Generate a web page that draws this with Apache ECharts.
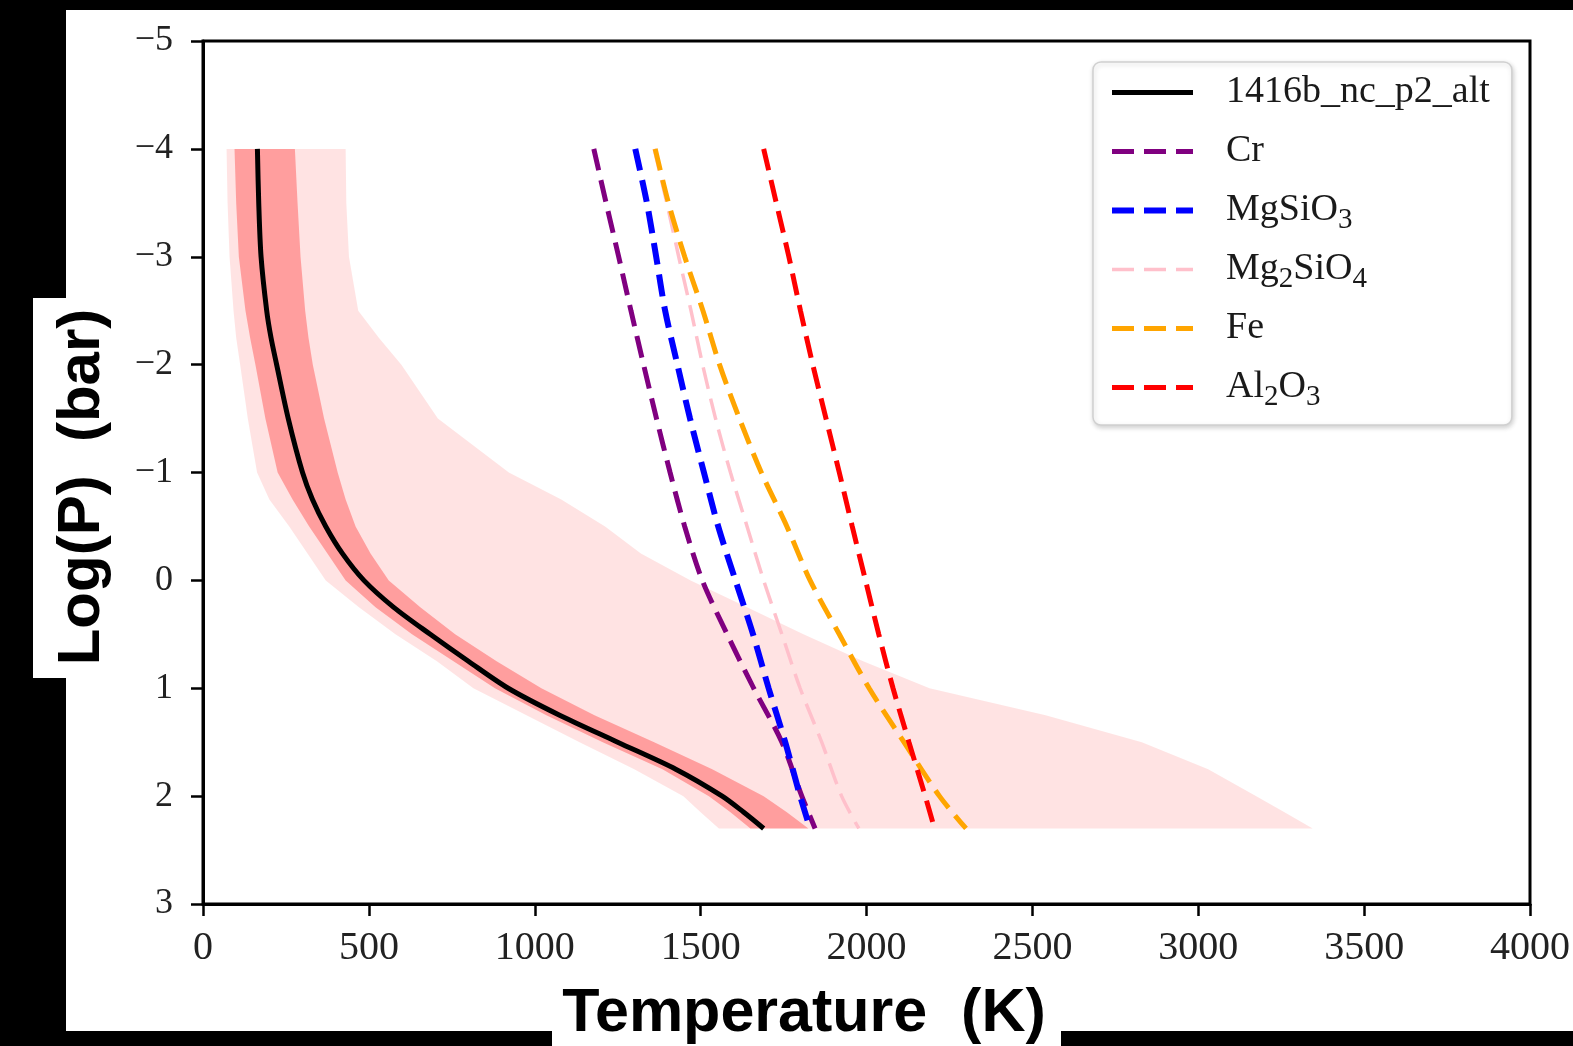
<!DOCTYPE html>
<html>
<head>
<meta charset="utf-8">
<title>Temperature–pressure profile</title>
<script src="https://cdn.jsdelivr.net/npm/echarts@6/dist/echarts.min.js"></script>
<style>
  html, body { margin: 0; padding: 0; background: #ffffff; }
  #chart { width: 1573px; height: 1046px; }
</style>
</head>
<body>
<div id="chart"></div>
<script>
// Pressure grid (log10 bar) shared by the retrieved profile and its bands
const pressure = [-4.0, -3.5, -3.0, -2.5, -2.25, -2.0, -1.5, -1.0, -0.75, -0.5, -0.25, 0.0,
                  0.25, 0.5, 0.75, 1.0, 1.25, 1.5, 1.75, 2.0, 2.15, 2.3];
// Retrieved temperature profile (K) and its confidence envelopes
const median  = [164, 168, 175, 192, 205, 222, 257, 300, 330, 370, 420, 485,
                 575, 685, 800, 920, 1075, 1250, 1425, 1565, 1630, 1690];
const innerLo = [95, 100, 108, 128, 142, 158, 188, 225, 270, 320, 375, 430,
                 520, 630, 755, 880, 1035, 1205, 1385, 1525, 1590, 1650];
const innerHi = [277, 285, 294, 308, 318, 331, 365, 406, 430, 460, 505, 560,
                 655, 760, 885, 1020, 1180, 1360, 1535, 1690, 1760, 1825];
const outerLo = [71, 74, 80, 92, 100, 112, 135, 163, 200, 260, 315, 370,
                 470, 580, 705, 815, 975, 1135, 1300, 1448, 1500, 1555];
const outerHi = [430, 432, 440, 468, 530, 598, 708, 922, 1080, 1212, 1320, 1470,
                 1640, 1810, 1990, 2190, 2540, 2830, 3030, 3175, 3260, 3345];

// Condensation curves, temperature (K) on their own pressure grid
const condPressure = [-4.0, -3.5, -3.0, -2.5, -2.0, -1.5, -1.0, -0.5, 0.0, 0.5, 1.0, 1.5, 2.0, 2.3];
const crT      = [1178, 1215, 1253, 1290, 1328, 1367, 1408, 1452, 1505, 1580, 1660, 1745, 1805, 1845];
const mgsio3T  = [1303, 1338, 1366, 1393, 1430, 1468, 1510, 1553, 1605, 1658, 1705, 1755, 1800, 1830];
const mg2sio4T = [1360, 1398, 1434, 1471, 1506, 1545, 1590, 1640, 1690, 1745, 1800, 1865, 1925, 1977];
const feT      = [1363, 1403, 1452, 1507, 1557, 1617, 1683, 1760, 1830, 1918, 2008, 2113, 2220, 2300];
const al2o3T   = [1690, 1728, 1766, 1801, 1838, 1878, 1918, 1957, 1997, 2037, 2080, 2128, 2177, 2205];

// Axis ticks
const xTicks = { min: 0, max: 4000, step: 500 };
const yTicks = { min: -5, max: 3, step: 1 };

// Legend entries; digits in species names are drawn as subscripts
const profileName = '1416b_nc_p2_alt';
const speciesNames = ['Cr', 'MgSiO3', 'Mg2SiO4', 'Fe', 'Al2O3'];

const serif = 'Liberation Serif';
const sans = 'Liberation Sans';

function pairs(ts, ps) { return ts.map((t, i) => [t, ps[i]]); }

function bandRenderer(lo, hi, fill) {
  return function (params, api) {
    if (params.dataIndex !== 0) return null;
    const pts = [];
    for (let i = 0; i < pressure.length; i++) pts.push(api.coord([lo[i], pressure[i]]));
    for (let i = pressure.length - 1; i >= 0; i--) pts.push(api.coord([hi[i], pressure[i]]));
    return { type: 'polygon', shape: { points: pts }, style: { fill: fill } };
  };
}

function legendLabel(name) {
  if (name === profileName) return '{n|' + name + '}';
  let out = '';
  name.split(/(\d)/).forEach(seg => {
    if (!seg) return;
    out += /^\d$/.test(seg) ? '{s|' + seg + '}' : '{n|' + seg + '}';
  });
  return out;
}

function dashed(name, ts, color, width) {
  return {
    type: 'line', name: name, data: pairs(ts, condPressure),
    symbol: 'none', showSymbol: false, smooth: 0.3,
    itemStyle: { color: color },
    lineStyle: { color: color, width: width, type: [22, 10] },
    z: 4
  };
}

const chart = echarts.init(document.getElementById('chart'), null, { renderer: 'canvas' });

chart.setOption({
  animation: false,
  backgroundColor: '#ffffff',
  grid: {
    left: 203, top: 41, width: 1329, height: 863,
    show: true, borderColor: '#000', borderWidth: 3, backgroundColor: 'transparent'
  },
  xAxis: {
    type: 'value', min: xTicks.min, max: xTicks.max, interval: xTicks.step,
    axisLine: { show: true, onZero: false, lineStyle: { color: '#000', width: 3 } },
    axisTick: { show: true, length: 12, lineStyle: { color: '#000', width: 2.5 } },
    splitLine: { show: false },
    axisLabel: { fontFamily: serif, fontSize: 40, color: '#222', margin: 24, formatter: v => String(v) }
  },
  yAxis: {
    type: 'value', min: yTicks.min, max: yTicks.max, interval: yTicks.step, inverse: true,
    axisLine: { show: true, onZero: false, lineStyle: { color: '#000', width: 3 } },
    axisTick: { show: true, length: 12, lineStyle: { color: '#000', width: 2.5 } },
    splitLine: { show: false },
    axisLabel: {
      fontFamily: serif, fontSize: 36, color: '#222', margin: 30, padding: [10, 0, 0, 0],
      formatter: v => (v < 0 ? '\u2212' + Math.abs(v) : String(v))
    }
  },
  legend: {
    orient: 'vertical', left: 1093, top: 62,
    padding: [1, 22, 8, 16],
    itemWidth: 81, itemHeight: 14, itemGap: 0,
    backgroundColor: '#ffffff', borderColor: '#d0d0d0', borderWidth: 1.5, borderRadius: 8,
    shadowBlur: 5, shadowColor: 'rgba(0,0,0,0.18)', shadowOffsetX: 1, shadowOffsetY: 2,
    selectedMode: false,
    itemStyle: { opacity: 0 },
    lineStyle: { width: 'inherit' },
    data: [profileName].concat(speciesNames),
    formatter: legendLabel,
    textStyle: {
      fontFamily: serif, fontSize: 38, color: '#1a1a1a', lineHeight: 59,
      padding: [0, 0, 0, 28],
      rich: {
        n: { fontFamily: serif, fontSize: 38, color: '#1a1a1a', lineHeight: 59 },
        s: { fontFamily: serif, fontSize: 29, color: '#1a1a1a', lineHeight: 59, padding: [19, 0, 0, 0] }
      }
    }
  },
  series: [
    {
      type: 'custom', name: 'outer band', coordinateSystem: 'cartesian2d',
      data: [[0, 0]], silent: true, z: 1,
      renderItem: bandRenderer(outerLo, outerHi, 'rgba(255,0,0,0.11)')
    },
    {
      type: 'custom', name: 'inner band', coordinateSystem: 'cartesian2d',
      data: [[0, 0]], silent: true, z: 1,
      renderItem: bandRenderer(innerLo, innerHi, 'rgba(255,0,0,0.3)')
    },
    {
      type: 'line', name: profileName, data: pairs(median, pressure),
      symbol: 'none', showSymbol: false, smooth: 0.3,
      itemStyle: { color: '#000000' },
      lineStyle: { color: '#000000', width: 5 }, z: 3
    },
    dashed('Cr', crT, '#800080', 5),
    dashed('MgSiO3', mgsio3T, '#0000ff', 6),
    dashed('Mg2SiO4', mg2sio4T, '#ffc0cb', 3.5),
    dashed('Fe', feT, '#ffa500', 5),
    dashed('Al2O3', al2o3T, '#ff0000', 5)
  ],
  graphic: [
    // black frame around the figure
    { type: 'rect', z: 100, shape: { x: 0, y: 0, width: 1573, height: 10 }, style: { fill: '#000' } },
    { type: 'rect', z: 100, shape: { x: 0, y: 0, width: 66, height: 1046 }, style: { fill: '#000' } },
    { type: 'rect', z: 100, shape: { x: 0, y: 1031, width: 1573, height: 15 }, style: { fill: '#000' } },
    // white plates behind the axis titles
    { type: 'rect', z: 101, shape: { x: 33, y: 298, width: 40, height: 380 }, style: { fill: '#fff' } },
    { type: 'rect', z: 101, shape: { x: 552, y: 1025, width: 509, height: 21 }, style: { fill: '#fff' } },
    {
      type: 'text', z: 102, x: 804, y: 1014,
      style: {
        text: 'Temperature  (K)', fill: '#000', font: 'bold 61px "' + sans + '"',
        textAlign: 'center', textVerticalAlign: 'middle'
      }
    },
    {
      type: 'text', z: 102, x: 82, y: 487, rotation: Math.PI / 2,
      style: {
        text: 'Log(P)  (bar)', fill: '#000', font: 'bold 60px "' + sans + '"',
        textAlign: 'center', textVerticalAlign: 'middle'
      }
    }
  ]
});
</script>
</body>
</html>
